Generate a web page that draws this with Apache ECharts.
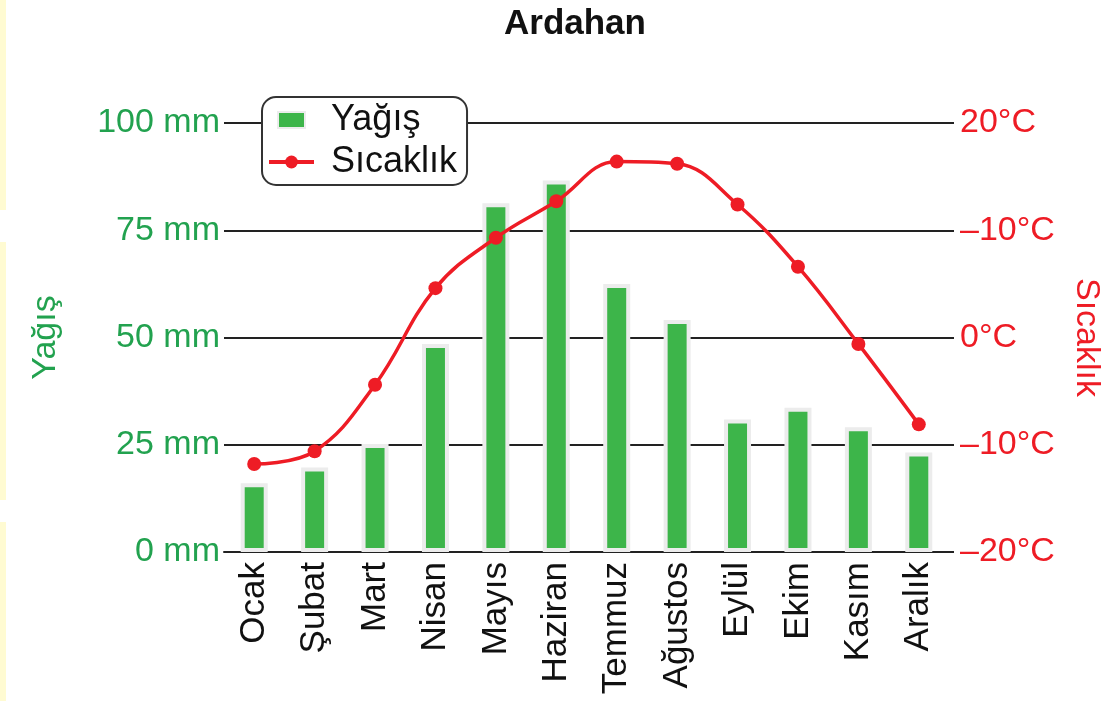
<!DOCTYPE html>
<html>
<head>
<meta charset="utf-8">
<script src="https://cdn.jsdelivr.net/npm/echarts@6/dist/echarts.min.js"></script>
<style>
  html, body { margin: 0; padding: 0; background: #fff; }
  #main { width: 1105px; height: 701px; }
</style>
</head>
<body>
<div id="main"></div>
<script>
// aylar
var months = ['Ocak', 'Şubat', 'Mart', 'Nisan', 'Mayıs', 'Haziran', 'Temmuz', 'Ağustos', 'Eylül', 'Ekim', 'Kasım', 'Aralık'];
// yağış (mm)
var rain = [16, 19.7, 25.2, 48.5, 81.3, 86.6, 62.5, 54.1, 30.9, 33.6, 29.1, 23.2];
// sıcaklık (°C)
var temp = [-11.8, -10.6, -4.4, 4.6, 9.3, 12.7, 16.4, 16.2, 12.4, 6.6, -0.6, -8.1];
// eksen etiketleri (resimdeki gibi)
var rainLabels = ['0 mm', '25 mm', '50 mm', '75 mm', '100 mm'];
var tempLabels = ['–20°C', '–10°C', '0°C', '–10°C', '20°C'];

var green = '#22a24f';
var red = '#ee1c25';
var font = 'Liberation Sans, Arial, sans-serif';

var myChart = echarts.init(document.getElementById('main'));
myChart.setOption({
    title: {
        text: 'Ardahan',
        left: 499,
        top: 2,
        textStyle: { fontFamily: font, fontSize: 35, fontWeight: 'bold', color: '#111' }
    },
    legend: {
        orient: 'vertical',
        left: 262,
        top: 97,
        padding: [5, 10, 5, 5],
        itemGap: 6,
        itemWidth: 45,
        itemHeight: 16,
        backgroundColor: '#fff',
        borderColor: '#333',
        borderWidth: 2,
        borderRadius: 14,
        textStyle: { fontFamily: font, fontSize: 36, color: '#111', padding: [0, 0, 0, 12] },
        data: [
            { name: 'Yağış', icon: 'path://M0,0H27V16H0Z' },
            { name: 'Sıcaklık', lineStyle: { width: 4 } }
        ]
    },
    grid: { left: 224, right: 156, top: 123, bottom: 149, outerBoundsMode: 'none' },
    xAxis: {
        type: 'category',
        data: months,
        axisLine: { lineStyle: { color: '#222', width: 2 } },
        axisTick: { length: 8, lineStyle: { color: '#222', width: 2 } },
        axisLabel: { rotate: 90, margin: 10, fontFamily: font, fontSize: 35, color: '#111' }
    },
    yAxis: [{
        type: 'value',
        min: 0, max: 100, interval: 25,
        name: 'Yağış',
        nameLocation: 'middle',
        nameRotate: 90,
        nameGap: 161,
        nameTextStyle: { fontFamily: font, fontSize: 34, color: green },
        axisLine: { show: false },
        axisTick: { show: false },
        splitLine: { lineStyle: { color: '#222', width: 2 } },
        axisLabel: {
            margin: 4, fontFamily: font, fontSize: 34, color: green,
            formatter: function (v) { return rainLabels[v / 25]; }
        }
    }, {
        type: 'value',
        min: -20, max: 20, interval: 10,
        name: 'Sıcaklık',
        nameLocation: 'middle',
        nameRotate: -90,
        nameGap: 120,
        nameTextStyle: { fontFamily: font, fontSize: 34, color: red },
        axisLine: { show: false },
        axisTick: { show: true, length: 5, lineStyle: { color: '#222', width: 2 } },
        splitLine: { show: false },
        axisLabel: {
            margin: 11, fontFamily: font, fontSize: 34, color: red,
            formatter: function (v) { return tempLabels[(v + 20) / 10]; }
        }
    }],
    graphic: [
        { type: 'rect', left: 0, top: 0, shape: { width: 6, height: 210 }, style: { fill: '#fffbd2' } },
        { type: 'rect', left: 0, top: 242, shape: { width: 6, height: 258 }, style: { fill: '#fffbd2' } },
        { type: 'rect', left: 0, top: 522, shape: { width: 6, height: 179 }, style: { fill: '#fffbd2' } }
    ],
    series: [{
        name: 'Yağış',
        type: 'bar',
        barWidth: 27,
        itemStyle: { color: '#3db54a', borderColor: '#ececec', borderWidth: 4 },
        data: rain
    }, {
        name: 'Sıcaklık',
        type: 'line',
        yAxisIndex: 1,
        smooth: 0.4,
        symbol: 'circle',
        symbolSize: 14,
        lineStyle: { color: red, width: 3.5 },
        itemStyle: { color: red },
        data: temp
    }]
});
</script>
</body>
</html>
